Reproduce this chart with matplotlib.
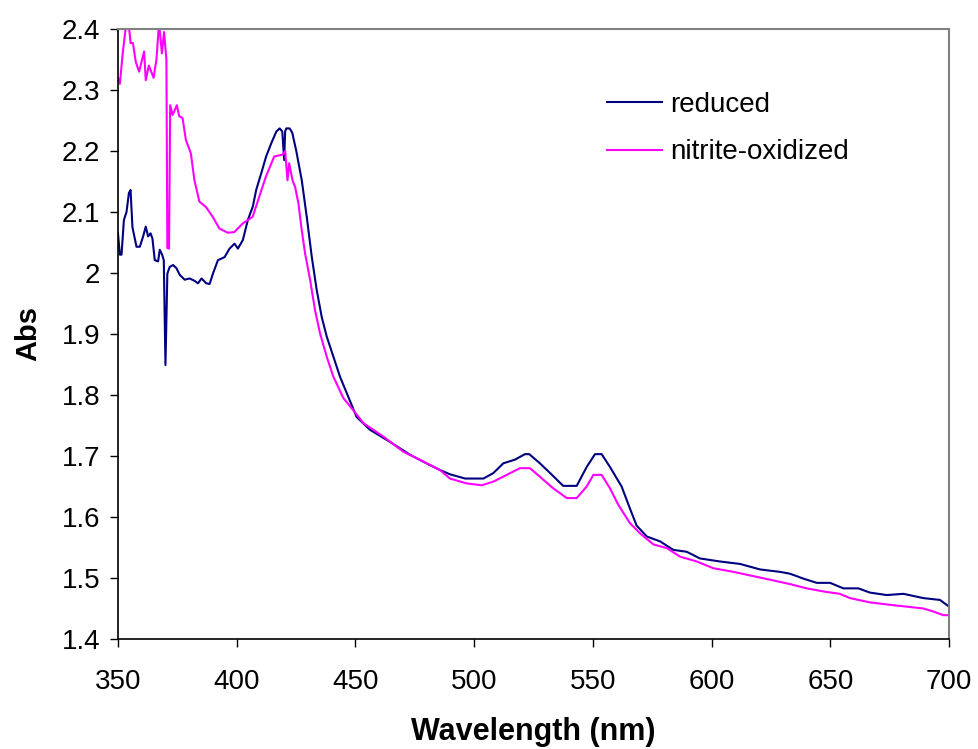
import matplotlib
matplotlib.use("Agg")
import matplotlib.pyplot as plt
from matplotlib.ticker import MultipleLocator, FormatStrFormatter

# absorbance spectrum, reduced sample
wl_red = [
    350.0, 350.8, 351.5, 352.5, 353.6, 354.6, 355.3, 356.1, 357.8, 359.2,
    360.6, 361.7, 362.7, 363.7, 364.5, 365.5, 366.9, 367.6, 368.6, 369.3,
    370.0, 370.8, 371.8, 373.2, 374.6, 376.0, 378.1, 380.2, 382.3, 383.7,
    385.2, 387.2, 388.6, 390.0, 392.1, 394.9, 397.0, 399.1, 400.5, 402.6,
    404.7, 406.8, 408.2, 410.3, 412.4, 414.6, 416.7, 418.1, 419.2, 420.0,
    420.4, 420.9, 422.3, 423.4, 425.1, 427.4, 429.5, 431.6, 433.7, 435.8,
    437.9, 440.7, 443.5, 447.0, 450.5, 456.1, 464.6, 473.0, 481.4, 485.6,
    489.8, 496.2, 503.9, 508.1, 512.3, 517.2, 521.4, 523.2, 527.7, 532.0,
    537.5, 543.2, 547.4, 550.9, 553.7, 557.2, 562.1, 565.6, 568.4, 572.7,
    578.3, 583.9, 589.5, 595.1, 603.6, 612.0, 620.4, 628.8, 633.0, 638.6,
    644.3, 649.9, 655.5, 661.8, 666.7, 673.8, 680.8, 689.2, 696.2, 700.0,
]
abs_red = [
    2.065, 2.030, 2.030, 2.087, 2.100, 2.131, 2.136, 2.075, 2.043, 2.043,
    2.060, 2.076, 2.060, 2.065, 2.057, 2.021, 2.019, 2.038, 2.030, 2.021,
    1.849, 1.999, 2.010, 2.013, 2.008, 1.997, 1.989, 1.991, 1.987, 1.983,
    1.991, 1.983, 1.982, 1.999, 2.021, 2.026, 2.040, 2.048, 2.040, 2.054,
    2.087, 2.109, 2.136, 2.163, 2.191, 2.213, 2.232, 2.237, 2.232, 2.185,
    2.232, 2.237, 2.237, 2.230, 2.200, 2.152, 2.092, 2.027, 1.972, 1.928,
    1.896, 1.863, 1.830, 1.797, 1.764, 1.743, 1.723, 1.702, 1.685, 1.677,
    1.670, 1.663, 1.663, 1.672, 1.688, 1.694, 1.703, 1.703, 1.688, 1.672,
    1.651, 1.651, 1.682, 1.703, 1.703, 1.682, 1.650, 1.614, 1.586, 1.568,
    1.560, 1.546, 1.543, 1.532, 1.527, 1.523, 1.514, 1.510, 1.507, 1.499,
    1.492, 1.492, 1.483, 1.483, 1.476, 1.472, 1.474, 1.467, 1.464, 1.453,
]

# absorbance spectrum after nitrite oxidation
wl_ox = [
    350.1, 350.8, 352.0, 353.5, 354.5, 355.3, 356.3, 357.5, 358.9, 361.0,
    361.7, 363.0, 365.0, 366.2, 367.3, 368.5, 369.4, 370.4, 370.8, 371.5,
    372.0, 373.0, 374.8, 375.8, 377.2, 378.6, 380.7, 382.2, 384.3, 387.1,
    389.9, 392.7, 396.2, 399.0, 402.5, 406.7, 409.5, 412.3, 415.8, 419.3,
    420.4, 421.4, 422.1, 423.5, 424.6, 426.0, 427.4, 428.8, 430.9, 433.0,
    435.1, 437.9, 440.7, 444.9, 449.1, 453.3, 461.7, 470.2, 478.6, 485.6,
    489.8, 496.9, 503.2, 508.1, 513.7, 519.3, 523.5, 527.7, 533.3, 539.0,
    543.2, 547.4, 550.2, 553.7, 557.2, 560.7, 565.6, 569.9, 575.5, 581.1,
    586.7, 593.8, 600.7, 609.2, 617.6, 626.0, 633.0, 640.0, 647.0, 654.0,
    658.3, 666.7, 675.1, 682.1, 689.2, 693.4, 697.6, 700.0,
]
abs_ox = [
    2.319, 2.310, 2.360, 2.410, 2.410, 2.377, 2.377, 2.346, 2.330, 2.363,
    2.316, 2.340, 2.320, 2.350, 2.410, 2.360, 2.395, 2.350, 2.041, 2.040,
    2.275, 2.259, 2.275, 2.257, 2.254, 2.218, 2.196, 2.152, 2.117, 2.108,
    2.092, 2.073, 2.066, 2.067, 2.081, 2.092, 2.125, 2.158, 2.191, 2.194,
    2.200, 2.152, 2.180, 2.152, 2.141, 2.114, 2.070, 2.032, 1.989, 1.939,
    1.901, 1.863, 1.830, 1.795, 1.775, 1.754, 1.732, 1.707, 1.691, 1.677,
    1.663, 1.655, 1.652, 1.658, 1.669, 1.680, 1.680, 1.666, 1.647, 1.631,
    1.631, 1.650, 1.669, 1.669, 1.647, 1.620, 1.590, 1.573, 1.555, 1.549,
    1.535, 1.527, 1.516, 1.510, 1.503, 1.496, 1.490, 1.483, 1.478, 1.474,
    1.467, 1.460, 1.456, 1.453, 1.450, 1.445, 1.439, 1.439,
]

plt.rcParams['font.family'] = ['Liberation Sans', 'DejaVu Sans']

fig = plt.figure(figsize=(9.79, 7.49), dpi=100)
ax = fig.add_axes([0.1205, 0.1469, 0.8489, 0.8144])

ax.plot(wl_red, abs_red, color='#000080', lw=1.5, label='reduced')
ax.plot(wl_ox, abs_ox, color='#FF00FF', lw=1.5, label='nitrite-oxidized')

ax.set_xlim(350, 700)
ax.set_ylim(1.4, 2.4)
ax.xaxis.set_major_locator(MultipleLocator(50))
ax.yaxis.set_major_locator(MultipleLocator(0.1))
ax.yaxis.set_major_formatter(FormatStrFormatter('%g'))
ax.tick_params(direction='out', length=5.8, width=1, labelsize=20, color='black')
ax.tick_params(axis='y', pad=7)
ax.tick_params(axis='x', pad=16)

for side in ['top', 'right']:
    ax.spines[side].set_color('#808080')
    ax.spines[side].set_linewidth(1.5)
for side in ['left', 'bottom']:
    ax.spines[side].set_color('black')
    ax.spines[side].set_linewidth(1.2)

ax.set_xlabel('Wavelength (nm)', fontsize=22, fontweight='bold', labelpad=16)
ax.set_ylabel('Abs', fontsize=21, fontweight='bold', labelpad=14)

ax.legend(loc='upper left', bbox_to_anchor=(0.5745, 0.915), frameon=False,
          fontsize=20, handlelength=2.0, handletextpad=0.3, labelspacing=0.77,
          borderaxespad=0)

fig.savefig('out.png', dpi=100)
